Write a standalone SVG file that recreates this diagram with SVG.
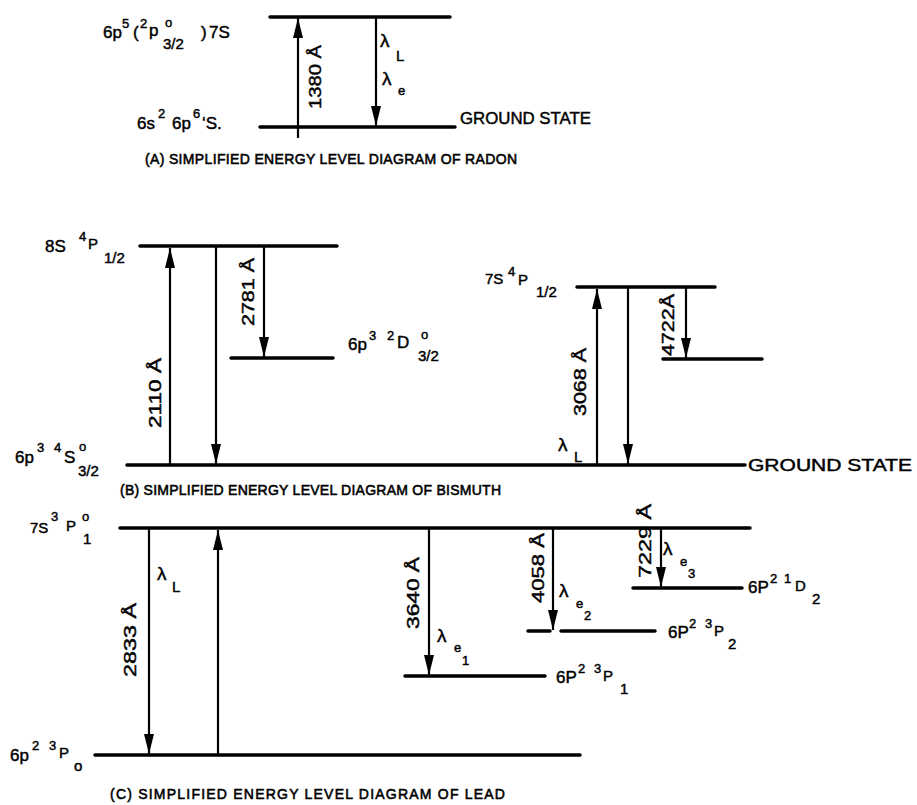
<svg xmlns="http://www.w3.org/2000/svg" width="917" height="805" viewBox="0 0 917 805">
<defs>
<marker id="ah" markerUnits="userSpaceOnUse" viewBox="0 0 22 11" refX="22" refY="5.5" markerWidth="22" markerHeight="10" orient="auto">
<path d="M0,0 L22,5.5 L0,11 z" fill="#000"/>
</marker>
<style>
text{font-family:"Liberation Sans",Arial,sans-serif;fill:#000;font-size:17px;stroke:#000;stroke-width:0.45}
.lvl{stroke:#000;stroke-width:3.5;stroke-linecap:round;fill:none}
.arr{stroke:#000;stroke-width:2.2;fill:none;marker-end:url(#ah)}
.sm{font-size:13px}
.sb{font-size:15px}
.cap{font-size:14px;stroke-width:0.55}
.wl{font-size:17px}
.lam{font-size:19px}
</style>
</defs>
<rect width="917" height="805" fill="#fff"/>

<!-- (A) RADON -->
<g id="rn-upper">
<line class="lvl" x1="270" y1="17" x2="450" y2="17"/>
<text x="103" y="38">6p<tspan class="sm" x="122" y="28">5</tspan><tspan x="133" y="38">(</tspan><tspan class="sm" x="140" y="28">2</tspan><tspan x="149" y="36">p</tspan><tspan class="sm" x="165" y="27">o</tspan><tspan class="sb" x="163" y="49">3/2</tspan><tspan x="201" y="38">)</tspan><tspan x="209" y="38">7S</tspan></text>
</g>
<g id="rn-ground">
<line class="lvl" x1="260" y1="127" x2="455" y2="127"/>
<text x="137" y="129">6s<tspan class="sm" x="158" y="118">2</tspan><tspan x="172" y="129">6p</tspan><tspan class="sm" x="193" y="118">6</tspan><tspan x="202" y="129">‘S.</tspan></text>
<text x="460" y="124" textLength="131" lengthAdjust="spacingAndGlyphs">GROUND STATE</text>
</g>
<text class="cap" x="145" y="164" textLength="372" lengthAdjust="spacing">(A)  SIMPLIFIED ENERGY LEVEL DIAGRAM OF RADON</text>

<!-- (B) BISMUTH -->
<g id="bi-8s">
<line class="lvl" x1="140" y1="246" x2="337" y2="246"/>
<text x="45" y="252">8S<tspan class="sm" x="79" y="241">4</tspan><tspan class="sb" x="88" y="249">P</tspan><tspan class="sb" x="104" y="263">1/2</tspan></text>
</g>
<g id="bi-2d">
<line class="lvl" x1="231" y1="358" x2="333" y2="358"/>
<text x="348" y="350">6p<tspan class="sm" x="369" y="340">3</tspan><tspan class="sm" x="387" y="340">2</tspan><tspan x="397" y="348">D</tspan><tspan class="sm" x="421" y="339">o</tspan><tspan class="sb" x="418" y="361">3/2</tspan></text>
</g>
<g id="bi-ground">
<line class="lvl" x1="127" y1="465" x2="745" y2="465"/>
<text x="15" y="463">6p<tspan class="sm" x="37" y="452">3</tspan><tspan class="sm" x="54" y="452">4</tspan><tspan x="64" y="463">S</tspan><tspan class="sm" x="79" y="451">o</tspan><tspan class="sb" x="78" y="476">3/2</tspan></text>
<text x="748" y="471" textLength="164" lengthAdjust="spacingAndGlyphs">GROUND STATE</text>
</g>
<g id="bi-7s">
<line class="lvl" x1="577" y1="287" x2="715" y2="287"/>
<text x="485" y="284" class="sb">7S<tspan class="sm" x="508" y="276">4</tspan><tspan x="518" y="285">P</tspan><tspan x="536" y="297">1/2</tspan></text>
</g>
<g id="bi-mid">
<line class="lvl" x1="663" y1="359" x2="762" y2="359"/>
</g>
<text class="cap" x="120" y="495" textLength="381" lengthAdjust="spacing">(B)  SIMPLIFIED ENERGY LEVEL DIAGRAM OF BISMUTH</text>

<!-- (C) LEAD -->
<g id="pb-7s">
<line class="lvl" x1="120" y1="528" x2="750" y2="528"/>
<text x="30" y="533" class="sb">7S<tspan class="sm" x="51" y="521">3</tspan><tspan x="66" y="531">P</tspan><tspan class="sm" x="82" y="521">o</tspan><tspan x="83" y="544">1</tspan></text>
</g>
<g id="pb-ground">
<line class="lvl" x1="95" y1="755" x2="580" y2="755"/>
<text x="10" y="761">6p<tspan class="sm" x="32" y="750">2</tspan><tspan class="sm" x="49" y="750">3</tspan><tspan class="sb" x="59" y="758">P</tspan><tspan class="sb" x="74" y="771">o</tspan></text>
</g>
<g id="pb-3p1">
<line class="lvl" x1="405" y1="676" x2="545" y2="676"/>
<text x="556" y="683">6P<tspan class="sm" x="578" y="673">2</tspan><tspan class="sm" x="594" y="673">3</tspan><tspan class="sb" x="603" y="681">P</tspan><tspan class="sb" x="620" y="694">1</tspan></text>
</g>
<g id="pb-3p2">
<line class="lvl" x1="528" y1="631" x2="550" y2="631"/>
<line class="lvl" x1="561" y1="631" x2="655" y2="631"/>
<text x="668" y="638">6P<tspan class="sm" x="689" y="628">2</tspan><tspan class="sm" x="705" y="628">3</tspan><tspan class="sb" x="714" y="636">P</tspan><tspan class="sb" x="728" y="649">2</tspan></text>
</g>
<g id="pb-1d2">
<line class="lvl" x1="633" y1="588" x2="742" y2="588"/>
<text x="748" y="593">6P<tspan class="sm" x="770" y="583">2</tspan><tspan class="sm" x="784" y="583">1</tspan><tspan class="sb" x="795" y="591">D</tspan><tspan class="sb" x="812" y="604">2</tspan></text>
</g>
<text class="cap" x="110" y="799" textLength="395" lengthAdjust="spacing">(C)  SIMPLIFIED ENERGY LEVEL DIAGRAM OF LEAD</text>

<g id="connectors">
<!-- Radon -->
<line class="arr" x1="298" y1="138" x2="298" y2="18"/>
<line class="arr" x1="376" y1="17" x2="376" y2="126"/>
<text class="wl" transform="translate(321,77) rotate(-90)" text-anchor="middle" textLength="64" lengthAdjust="spacingAndGlyphs">1380 Å</text>
<text x="380" y="47" class="lam">λ<tspan class="sb" x="396" y="61">L</tspan></text>
<text x="382" y="85" class="lam">λ<tspan class="sm" x="398" y="95">e</tspan></text>
<!-- Bismuth left -->
<line class="arr" x1="170" y1="465" x2="170" y2="248"/>
<line class="arr" x1="216" y1="246" x2="216" y2="464"/>
<line class="arr" x1="264" y1="246" x2="264" y2="357"/>
<text class="wl" transform="translate(254,292) rotate(-90)" text-anchor="middle" textLength="68" lengthAdjust="spacingAndGlyphs">2781 Å</text>
<text class="wl" transform="translate(161,393) rotate(-90)" text-anchor="middle" textLength="70" lengthAdjust="spacingAndGlyphs">2110 Å</text>
<!-- Bismuth right -->
<line class="arr" x1="597" y1="465" x2="597" y2="289"/>
<line class="arr" x1="628" y1="287" x2="628" y2="464"/>
<line class="arr" x1="686" y1="287" x2="686" y2="358"/>
<text class="wl" transform="translate(674,325) rotate(-90)" text-anchor="middle" textLength="62" lengthAdjust="spacingAndGlyphs">4722Å</text>
<text class="wl" transform="translate(586,382) rotate(-90)" text-anchor="middle" textLength="68" lengthAdjust="spacingAndGlyphs">3068 Å</text>
<text x="558" y="451" class="lam">λ<tspan class="sb" x="574" y="462">L</tspan></text>
<!-- Lead -->
<line class="arr" x1="149" y1="528" x2="149" y2="754"/>
<line class="arr" x1="218" y1="755" x2="218" y2="530"/>
<line class="arr" x1="429" y1="528" x2="429" y2="675"/>
<line class="arr" x1="553" y1="528" x2="553" y2="630"/>
<line class="arr" x1="661" y1="528" x2="661" y2="587"/>
<text class="wl" transform="translate(136,640) rotate(-90)" text-anchor="middle" textLength="74" lengthAdjust="spacingAndGlyphs">2833 Å</text>
<text class="wl" transform="translate(419,593) rotate(-90)" text-anchor="middle" textLength="72" lengthAdjust="spacingAndGlyphs">3640 Å</text>
<text class="wl" transform="translate(544,568) rotate(-90)" text-anchor="middle" textLength="70" lengthAdjust="spacingAndGlyphs">4058 Å</text>
<text class="wl" transform="translate(651,541) rotate(-90)" text-anchor="middle" textLength="74" lengthAdjust="spacingAndGlyphs">7229    Å</text>
<text x="157" y="580" class="lam">λ<tspan class="sb" x="172" y="592">L</tspan></text>
<text x="437" y="642" class="lam">λ<tspan class="sm" x="454" y="652">e</tspan><tspan class="sm" x="462" y="665">1</tspan></text>
<text x="559" y="597" class="lam">λ<tspan class="sm" x="576" y="608">e</tspan><tspan class="sm" x="584" y="620">2</tspan></text>
<text x="663" y="555" class="lam">λ<tspan class="sm" x="680" y="566">e</tspan><tspan class="sm" x="688" y="578">3</tspan></text>
</g>
</svg>
